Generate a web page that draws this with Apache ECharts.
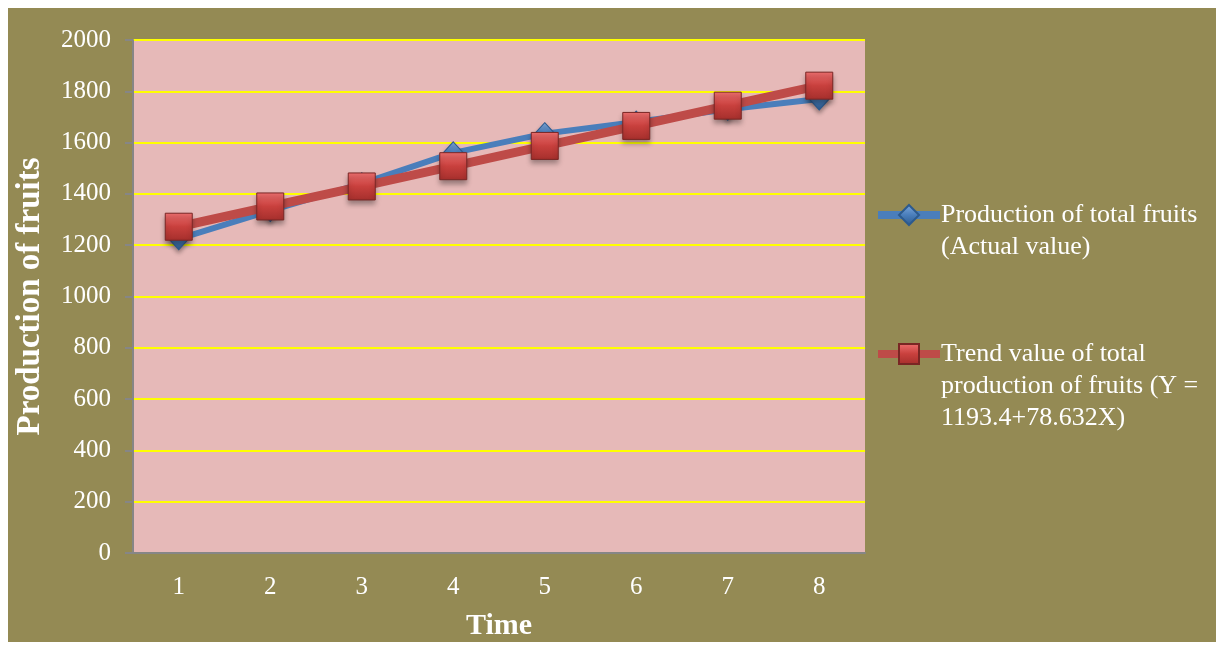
<!DOCTYPE html>
<html>
<head>
<meta charset="utf-8">
<script src="https://cdn.jsdelivr.net/npm/echarts@6/dist/echarts.min.js"></script>
<style>
  html, body { margin: 0; padding: 0; background: #ffffff; width: 1216px; height: 648px; overflow: hidden; }
  #chart { position: absolute; left: 8px; top: 8px; width: 1208px; height: 634px; }
</style>
</head>
<body>
<div id="chart"></div>
<script>
const categories = ['1', '2', '3', '4', '5', '6', '7', '8'];
const actualValues = [1225, 1335, 1440, 1560, 1635, 1680, 1730, 1770];
const trendValues = [1272, 1351, 1429, 1508, 1587, 1665, 1744, 1822];
const seriesNames = [
  'Production of total fruits\n(Actual value)',
  'Trend value of total\nproduction of fruits (Y =\n1193.4+78.632X)'
];
const yTicks = { min: 0, max: 2000, interval: 200 };

const font = 'Liberation Serif';
const chart = echarts.init(document.getElementById('chart'), null, { renderer: 'canvas' });

const option = {
  backgroundColor: '#948A54',
  animation: false,
  grid: {
    left: 125, right: 351, top: 32, bottom: 89,
    containLabel: false,
    outerBoundsMode: 'none',
    show: true, backgroundColor: '#E6B9B8', borderWidth: 0
  },
  legend: {
    orient: 'vertical',
    left: 861,
    top: 154,
    itemWidth: 62,
    itemHeight: 25,
    itemGap: 11,
    data: seriesNames,
    lineStyle: { width: 8 },
    formatter: function (name) {
      const n = name.split('\n').length;
      return '\n'.repeat(n - 1) + name;
    },
    textStyle: { color: '#ffffff', fontFamily: font, fontSize: 26, lineHeight: 32, padding: [0, 0, 0, -4] }
  },
  xAxis: {
    type: 'category',
    data: categories,
    boundaryGap: true,
    name: 'Time',
    nameLocation: 'middle',
    nameGap: 58,
    nameTextStyle: { color: '#ffffff', fontFamily: font, fontSize: 30, fontWeight: 'bold' },
    axisLine: { show: true, lineStyle: { color: '#868686', width: 2 } },
    axisTick: { show: false },
    axisLabel: { color: '#ffffff', fontFamily: font, fontSize: 25, margin: 22 },
    splitLine: { show: false }
  },
  yAxis: {
    type: 'value',
    min: yTicks.min, max: yTicks.max, interval: yTicks.interval,
    name: 'Production of fruits',
    nameLocation: 'middle',
    nameGap: 86,
    nameTextStyle: { color: '#ffffff', fontFamily: font, fontSize: 33, fontWeight: 'bold' },
    axisLine: { show: true, lineStyle: { color: '#868686', width: 2 } },
    axisTick: { show: true, length: 8, lineStyle: { color: '#868686', width: 2 } },
    axisLabel: { color: '#ffffff', fontFamily: font, fontSize: 25, margin: 22, formatter: function (v) { return String(v); } },
    splitLine: { show: true, lineStyle: { color: '#FFFF00', width: 2 } }
  },
  series: [
    {
      name: seriesNames[0],
      type: 'line',
      data: actualValues,
      symbol: 'diamond',
      symbolSize: [20, 22],
      z: 2,
      lineStyle: { color: '#4A7EBB', width: 6 },
      itemStyle: {
        color: new echarts.graphic.LinearGradient(0, 0, 0, 1, [
          { offset: 0, color: '#7FA9DD' },
          { offset: 0.5, color: '#4A7EBB' },
          { offset: 1, color: '#2C5A8E' }
        ]),
        borderColor: '#2C5A8E', borderWidth: 1,
        shadowBlur: 4, shadowOffsetY: 3, shadowColor: 'rgba(0,0,0,0.35)'
      }
    },
    {
      name: seriesNames[1],
      type: 'line',
      data: trendValues,
      symbol: 'rect',
      symbolSize: 27,
      z: 3,
      lineStyle: { color: '#BE4B48', width: 9 },
      itemStyle: {
        color: new echarts.graphic.LinearGradient(0, 0, 0, 1, [
          { offset: 0, color: '#F07070' },
          { offset: 0.5, color: '#C8403D' },
          { offset: 1, color: '#A52F2C' }
        ]),
        borderColor: '#7A2624', borderWidth: 1,
        shadowBlur: 5, shadowOffsetY: 4, shadowColor: 'rgba(0,0,0,0.35)'
      }
    }
  ]
};
chart.setOption(option);
</script>
</body>
</html>
